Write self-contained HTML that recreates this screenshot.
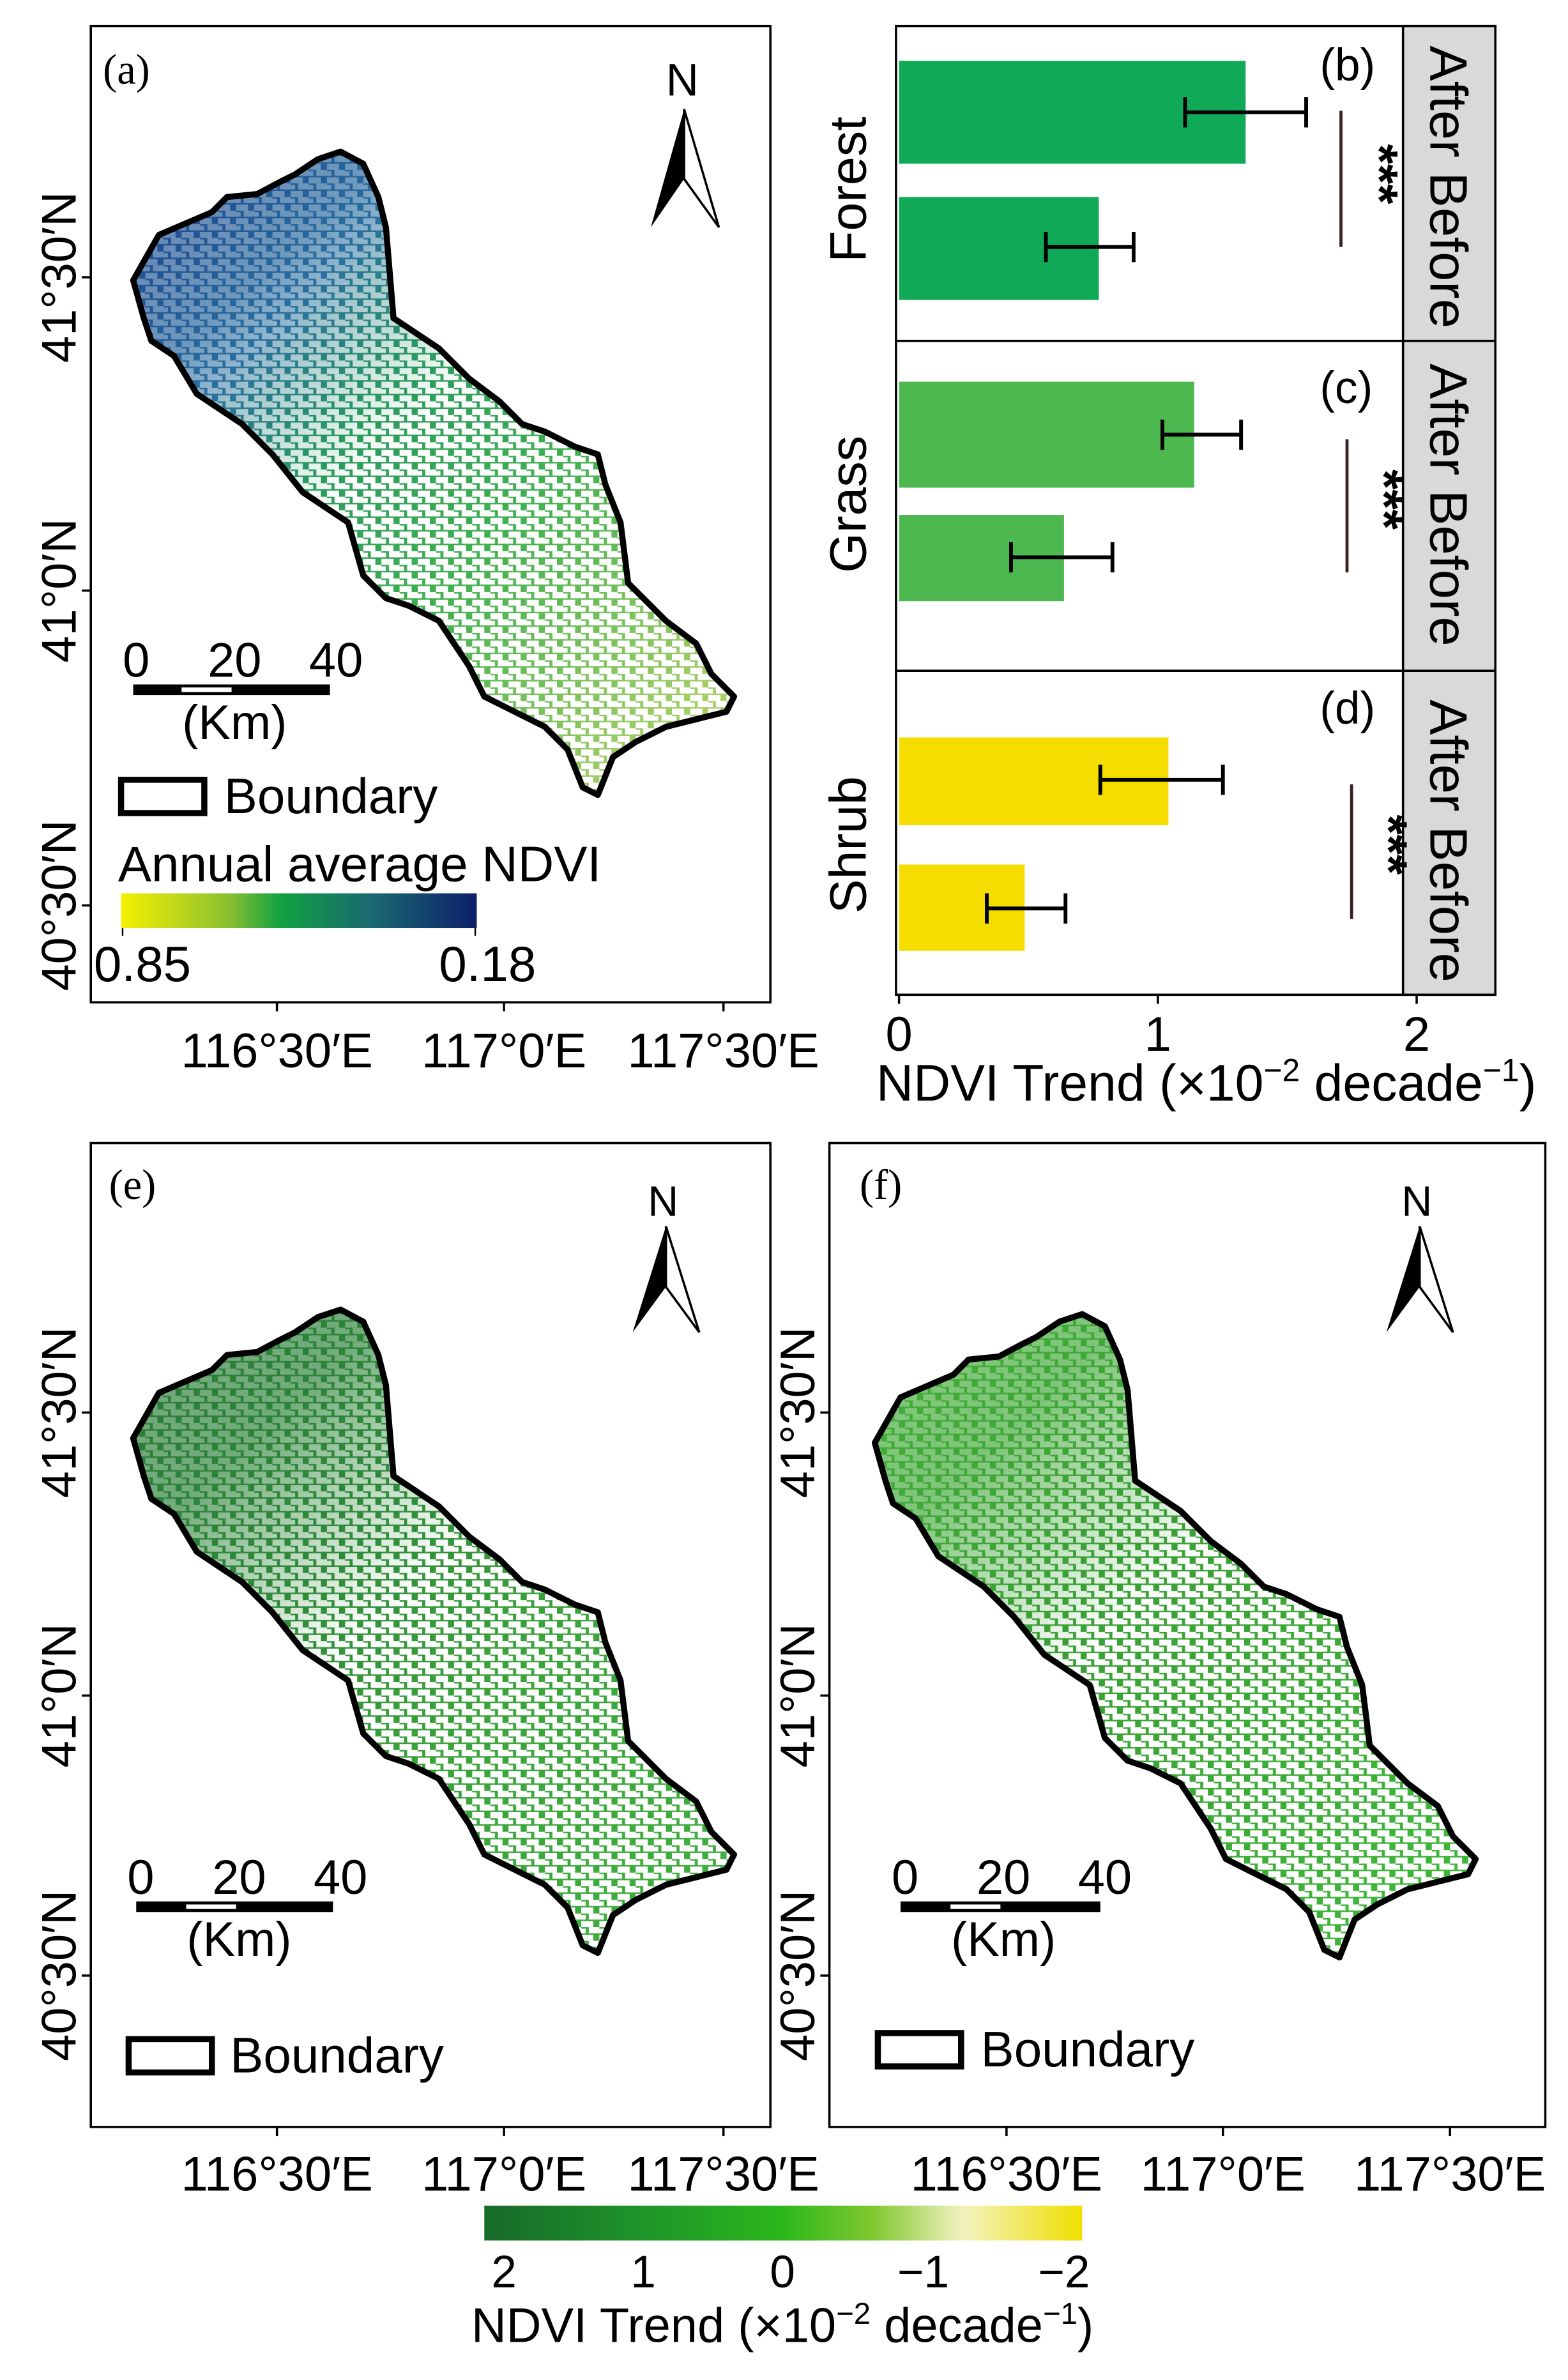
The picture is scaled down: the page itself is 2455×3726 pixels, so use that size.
<!DOCTYPE html>
<html><head><meta charset="utf-8"><style>
html,body{margin:0;padding:0;background:#fff}
svg{display:block}
text{font-family:"Liberation Sans",sans-serif;fill:#000}
.s{font-family:"Liberation Serif",serif}
</style></head><body>
<svg width="2455" height="3726" viewBox="0 0 1036 1572" xmlns="http://www.w3.org/2000/svg">
<defs>
<polygon id="basin" points="88,185 105,155 140,140 150,130 170,128 185,120 195,115 210,105 225,100 240,108 250,130 255,150 260,210 290,230 310,250 330,265 345,280 360,285 380,295 395,300 400,320 410,345 415,385 425,395 440,410 460,425 470,445 485,460 480,470 460,475 440,480 420,490 405,500 395,525 385,520 375,495 360,480 340,470 320,460 310,440 290,410 270,400 255,395 240,380 230,345 200,325 180,300 160,280 130,260 115,235 100,225 95,210"/>
<linearGradient id="ga" x1="0" y1="0" x2="1" y2="1" gradientUnits="objectBoundingBox">
<stop offset="0" stop-color="#1a3f8a"/><stop offset="0.25" stop-color="#2a6fa0"/><stop offset="0.4" stop-color="#2a9a60"/><stop offset="0.6" stop-color="#40b050"/><stop offset="1" stop-color="#c8d870"/></linearGradient>
<linearGradient id="ge" x1="0" y1="0" x2="1" y2="1" gradientUnits="objectBoundingBox">
<stop offset="0" stop-color="#2a7a38"/><stop offset="0.35" stop-color="#2f8a3a"/><stop offset="0.6" stop-color="#3aa33a"/><stop offset="1" stop-color="#40b040"/></linearGradient>
<linearGradient id="gf" x1="0" y1="0" x2="1" y2="1" gradientUnits="objectBoundingBox">
<stop offset="0" stop-color="#45b03a"/><stop offset="0.4" stop-color="#3a9f35"/><stop offset="1" stop-color="#3fba3a"/></linearGradient>
<pattern id="sp2" width="12" height="9" patternUnits="userSpaceOnUse">
<rect x="0" y="0" width="8" height="4" fill="#fff"/><rect x="5" y="4" width="7" height="4" fill="#fff"/><rect x="0" y="5" width="3" height="3" fill="#fff"/></pattern>
<linearGradient id="cba" x1="0" x2="1"><stop offset="0" stop-color="#f5f000"/><stop offset="0.3" stop-color="#8cc030"/><stop offset="0.45" stop-color="#10a040"/><stop offset="0.7" stop-color="#1a6a70"/><stop offset="1" stop-color="#0d1f6a"/></linearGradient>
<linearGradient id="cbb" x1="0" x2="1"><stop offset="0" stop-color="#186a2a"/><stop offset="0.3" stop-color="#1f9a28"/><stop offset="0.5" stop-color="#2cb81a"/><stop offset="0.65" stop-color="#80c830"/><stop offset="0.8" stop-color="#f2f2c0"/><stop offset="1" stop-color="#f0e000"/></linearGradient>
<mask id="m1" maskContentUnits="userSpaceOnUse"><rect x="80" y="90" width="420" height="450" fill="url(#maskg2)"/></mask>
<linearGradient id="maskg2" x1="88" y1="100" x2="485" y2="525" gradientUnits="userSpaceOnUse"><stop offset="0.2" stop-color="#555"/><stop offset="0.45" stop-color="#fff"/></linearGradient>
</defs>

<!-- Panel a -->
<rect x="60" y="17" width="449" height="645" fill="#fff" stroke="#000" stroke-width="1.5"/>
<text x="68" y="55" font-size="28" class="s">(a)</text>
<text x="440" y="63" font-size="30">N</text>
<polygon points="452,72 430,150 452,118" fill="#000"/><polygon points="452,72 475,150 452,118" fill="#fff" stroke="#000" stroke-width="1.5"/>
<use href="#basin" fill="url(#ga)"/>
<use href="#basin" fill="url(#sp2)" mask="url(#m1)"/>
<use href="#basin" fill="none" stroke="#000" stroke-width="4" stroke-linejoin="round"/>
<g stroke="#000" stroke-width="1.5"><line x1="54" y1="183" x2="60" y2="183"/><line x1="54" y1="390" x2="60" y2="390"/><line x1="54" y1="598" x2="60" y2="598"/>
<line x1="183" y1="662" x2="183" y2="668"/><line x1="333" y1="662" x2="333" y2="668"/><line x1="478" y1="662" x2="478" y2="668"/></g>
<g font-size="32" text-anchor="middle">
<text transform="translate(50,183) rotate(-90)">41°30′N</text>
<text transform="translate(50,390) rotate(-90)">41°0′N</text>
<text transform="translate(50,598) rotate(-90)">40°30′N</text>
<text x="183" y="705">116°30′E</text><text x="333" y="705">117°0′E</text><text x="478" y="705">117°30′E</text>
<text x="90" y="447">0</text><text x="155" y="447">20</text><text x="222" y="447">40</text>
<text x="155" y="488">(Km)</text></g>
<rect x="88" y="452" width="130" height="7" fill="#000"/><rect x="120" y="454" width="33" height="3" fill="#fff"/>
<rect x="80" y="515" width="55" height="22" fill="#fff" stroke="#000" stroke-width="4"/>
<text x="148" y="537" font-size="33">Boundary</text>
<text x="78" y="582" font-size="33">Annual average NDVI</text>
<rect x="80" y="590" width="235" height="23" fill="url(#cba)"/>
<line x1="81" y1="613" x2="81" y2="618" stroke="#000"/><line x1="314" y1="613" x2="314" y2="618" stroke="#000"/>
<text x="62" y="648" font-size="33">0.85</text><text x="290" y="648" font-size="33">0.18</text>

<!-- Panels b-d -->
<rect x="592" y="17" width="396" height="640" fill="#fff" stroke="#000" stroke-width="1.5"/>
<rect x="927" y="17" width="61" height="640" fill="#d9d9d9" stroke="#000" stroke-width="1.5"/>
<line x1="592" y1="225" x2="988" y2="225" stroke="#000" stroke-width="1.5"/>
<line x1="592" y1="443" x2="988" y2="443" stroke="#000" stroke-width="1.5"/>
<rect x="594" y="40" width="229" height="68" fill="#10a957"/><rect x="594" y="130" width="132" height="68" fill="#10a957"/>
<rect x="594" y="252" width="195" height="70" fill="#4cb84f"/><rect x="594" y="340" width="109" height="57" fill="#4cb84f"/>
<rect x="594" y="487" width="178" height="58" fill="#f5dd00"/><rect x="594" y="571" width="83" height="57" fill="#f5dd00"/>
<g stroke="#000" stroke-width="2.5">
<path d="M783,74H863M783,64V84M863,64V84"/><path d="M691,163H749M691,153V173M749,153V173"/>
<path d="M768,287H820M768,277V297M820,277V297"/><path d="M668,368H735M668,358V378M735,358V378"/>
<path d="M727,515H808M727,505V525M808,505V525"/><path d="M652,600H704M652,590V610M704,590V610"/></g>
<g stroke="#3a2020" stroke-width="2"><line x1="886" y1="73" x2="886" y2="163"/><line x1="890" y1="290" x2="890" y2="378"/><line x1="893" y1="518" x2="893" y2="607"/></g>
<g font-size="34" font-weight="bold">
<text transform="translate(900,95) rotate(90)">***</text>
<text transform="translate(903,310) rotate(90)">***</text>
<text transform="translate(906,538) rotate(90)">***</text></g>
<g font-size="30" class="s"><text x="872" y="53">(b)</text><text x="872" y="266">(c)</text><text x="872" y="478">(d)</text></g>
<g font-size="35">
<text transform="translate(945,30) rotate(90)">After  Before</text>
<text transform="translate(945,240) rotate(90)">After  Before</text>
<text transform="translate(945,462) rotate(90)">After  Before</text></g>
<g font-size="34" text-anchor="middle">
<text transform="translate(572,125) rotate(-90)">Forest</text>
<text transform="translate(572,333) rotate(-90)">Grass</text>
<text transform="translate(572,558) rotate(-90)">Shrub</text></g>
<g stroke="#000" stroke-width="1.5"><line x1="594" y1="657" x2="594" y2="663"/><line x1="765" y1="657" x2="765" y2="663"/><line x1="936" y1="657" x2="936" y2="663"/></g>
<g font-size="32" text-anchor="middle"><text x="594" y="694">0</text><text x="765" y="694">1</text><text x="936" y="694">2</text>
<text x="797" y="727" font-size="34">NDVI Trend (×10<tspan dy="-13" font-size="21">−2</tspan><tspan dy="13"> decade</tspan><tspan dy="-13" font-size="21">−1</tspan><tspan dy="13">)</tspan></text></g>

<!-- Panel e -->
<rect x="60" y="755" width="449" height="650" fill="#fff" stroke="#000" stroke-width="1.5"/>
<text x="72" y="792" font-size="28" class="s">(e)</text>
<text x="428" y="803" font-size="28">N</text>
<polygon points="440,810 418,880 440,850" fill="#000"/><polygon points="440,810 462,880 440,850" fill="#fff" stroke="#000" stroke-width="1.5"/>
<g transform="translate(0,765)">
<use href="#basin" fill="url(#ge)"/>
<use href="#basin" fill="url(#sp2)" mask="url(#m1)"/>
<use href="#basin" fill="none" stroke="#000" stroke-width="4" stroke-linejoin="round"/></g>
<g stroke="#000" stroke-width="1.5"><line x1="54" y1="933" x2="60" y2="933"/><line x1="54" y1="1120" x2="60" y2="1120"/><line x1="54" y1="1305" x2="60" y2="1305"/>
<line x1="183" y1="1405" x2="183" y2="1411"/><line x1="333" y1="1405" x2="333" y2="1411"/><line x1="478" y1="1405" x2="478" y2="1411"/></g>
<g font-size="32" text-anchor="middle">
<text transform="translate(50,933) rotate(-90)">41°30′N</text>
<text transform="translate(50,1120) rotate(-90)">41°0′N</text>
<text transform="translate(50,1305) rotate(-90)">40°30′N</text>
<text x="183" y="1447">116°30′E</text><text x="333" y="1447">117°0′E</text><text x="478" y="1447">117°30′E</text>
<text x="93" y="1251">0</text><text x="158" y="1251">20</text><text x="225" y="1251">40</text>
<text x="158" y="1292">(Km)</text></g>
<rect x="90" y="1256" width="130" height="7" fill="#000"/><rect x="123" y="1258" width="33" height="3" fill="#fff"/>
<rect x="85" y="1347" width="55" height="22" fill="#fff" stroke="#000" stroke-width="4"/>
<text x="152" y="1369" font-size="33">Boundary</text>

<!-- Panel f -->
<rect x="548" y="755" width="473" height="650" fill="#fff" stroke="#000" stroke-width="1.5"/>
<text x="568" y="792" font-size="28" class="s">(f)</text>
<text x="926" y="803" font-size="28">N</text>
<polygon points="938,810 916,880 938,850" fill="#000"/><polygon points="938,810 960,880 938,850" fill="#fff" stroke="#000" stroke-width="1.5"/>
<g transform="translate(490,768)">
<use href="#basin" fill="url(#gf)"/>
<use href="#basin" fill="url(#sp2)" mask="url(#m1)"/>
<use href="#basin" fill="none" stroke="#000" stroke-width="4" stroke-linejoin="round"/></g>
<g stroke="#000" stroke-width="1.5"><line x1="542" y1="933" x2="548" y2="933"/><line x1="542" y1="1120" x2="548" y2="1120"/><line x1="542" y1="1305" x2="548" y2="1305"/>
<line x1="665" y1="1405" x2="665" y2="1411"/><line x1="808" y1="1405" x2="808" y2="1411"/><line x1="958" y1="1405" x2="958" y2="1411"/></g>
<g font-size="32" text-anchor="middle">
<text transform="translate(538,933) rotate(-90)">41°30′N</text>
<text transform="translate(538,1120) rotate(-90)">41°0′N</text>
<text transform="translate(538,1305) rotate(-90)">40°30′N</text>
<text x="665" y="1447">116°30′E</text><text x="808" y="1447">117°0′E</text><text x="958" y="1447">117°30′E</text>
<text x="598" y="1251">0</text><text x="663" y="1251">20</text><text x="730" y="1251">40</text>
<text x="663" y="1292">(Km)</text></g>
<rect x="595" y="1256" width="132" height="7" fill="#000"/><rect x="628" y="1258" width="33" height="3" fill="#fff"/>
<rect x="580" y="1343" width="55" height="22" fill="#fff" stroke="#000" stroke-width="4"/>
<text x="648" y="1365" font-size="33">Boundary</text>

<!-- Bottom colorbar -->
<rect x="320" y="1457" width="395" height="23" fill="url(#cbb)"/>
<g font-size="30" text-anchor="middle"><text x="333" y="1511">2</text><text x="425" y="1511">1</text><text x="517" y="1511">0</text><text x="610" y="1511">−1</text><text x="703" y="1511">−2</text>
<text x="517" y="1547" font-size="32">NDVI Trend (×10<tspan dy="-12" font-size="20">−2</tspan><tspan dy="12"> decade</tspan><tspan dy="-12" font-size="20">−1</tspan><tspan dy="12">)</tspan></text></g>
</svg>
</body></html>
